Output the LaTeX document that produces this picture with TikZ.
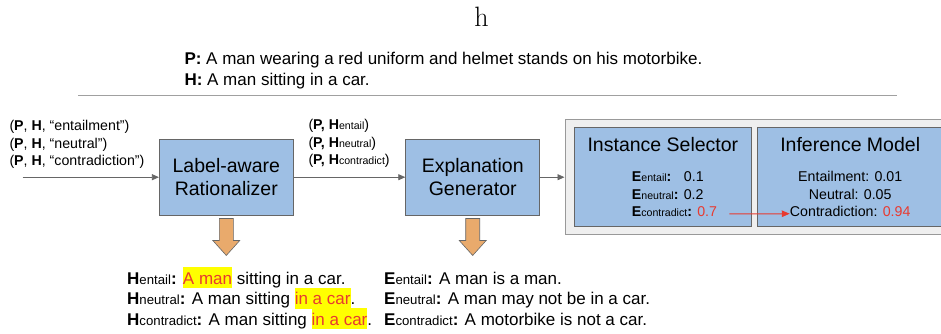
\documentclass[tikz,border=0pt]{standalone}
\usepackage{fontspec}
\usetikzlibrary{arrows.meta,calc}
\newfontfamily\arial{Liberation Sans}
\definecolor{boxblue}{RGB}{158,191,228}
\definecolor{boxborder}{RGB}{102,102,102}
\definecolor{outerfill}{RGB}{239,239,239}
\definecolor{outerborder}{RGB}{153,153,153}
\definecolor{orangefill}{RGB}{233,170,108}
\definecolor{hlred}{RGB}{232,58,48}
\definecolor{hlyellow}{RGB}{255,255,0}
\definecolor{arrgray}{RGB}{102,102,102}
\definecolor{sepgray}{RGB}{160,160,160}
\newcommand\ssub[1]{{\fontsize{10.6}{12}\selectfont #1}}
\newcommand\lsub[1]{{\fontsize{13.2}{15}\selectfont #1}}
\newcommand\hlt[1]{{\setlength{\fboxsep}{0pt}\colorbox{hlyellow}{\rule[-4pt]{0pt}{21pt}\textcolor{hlred}{#1}}}}
\begin{document}
\begin{tikzpicture}[x=1pt,y=-1pt,
  txtfourteen/.style={inner sep=0pt, font=\arial\fontsize{14.2}{17}\selectfont},
  txtseventeen/.style={inner sep=0pt, font=\arial\fontsize{17}{20}\selectfont},
  titletxt/.style={inner sep=0pt, font=\arial\fontsize{19.5}{23.5}\selectfont},
  bluebox/.style={draw=boxborder, fill=boxblue, line width=0.8pt, inner sep=0pt, align=center, font=\arial\fontsize{19.5}{23.5}\selectfont},
  outerbox/.style={draw=outerborder, fill=outerfill, line width=1pt, inner sep=0pt},
  arr/.style={draw=arrgray, line width=0.8pt, -{Triangle[length=7pt,width=6pt]}},
  redarr/.style={draw=hlred, line width=1pt, -{Triangle[length=8pt,width=6.5pt]}},
  orangearr/.style={draw=boxborder, fill=orangefill, line width=0.6pt, line join=miter},
  sepline/.style={draw=sepgray, line width=1.3pt}]
\clip (0,0) rectangle (941,334);
\fill[white] (0,0) rectangle (941,334);

% title letter
\node[inner sep=0pt, anchor=base, font=\fontsize{28}{32}\selectfont] (htop) at (481.5,26.7) {h};

% premise / hypothesis
\node[txtseventeen, anchor=base west] (pline) at (184.3,64.5) {\textbf{P:} A man wearing a red uniform and helmet stands on his motorbike.};
\node[txtseventeen, anchor=base west] (hline) at (184.3,86) {\textbf{H:} A man sitting in a car.};
\coordinate (sepL) at (78.3,95.7);
\coordinate (sepR) at (897,95.7);
\draw[sepline] (sepL) -- (sepR);

% input labels
\node[txtfourteen, anchor=base west] (in1) at (9.3,130.5) {(\textbf{P}, \textbf{H}, “entailment”)};
\node[txtfourteen, anchor=base west] (in2) at (9.3,148) {(\textbf{P}, \textbf{H}, “neutral”)};
\node[txtfourteen, anchor=base west] (in3) at (9.3,165.5) {(\textbf{P}, \textbf{H}, “contradiction”)};

% boxes
\node[bluebox, minimum width=134pt, minimum height=75.7pt] (lar) at (226.3,177.2) {Label-aware\\Rationalizer};
\node[bluebox, minimum width=134pt, minimum height=75.7pt] (gen) at (472.7,177.2) {Explanation\\Generator};
\node[outerbox, minimum width=386pt, minimum height=115.2pt] (outer) at (758,176.9) {};
\node[bluebox, minimum width=177.7pt, minimum height=98.7pt] (sel) at (662.9,176.7) {};
\node[bluebox, minimum width=185.7pt, minimum height=98.7pt] (inf) at (850.2,176.7) {};

% (P, H_x) labels
\node[txtfourteen, anchor=base west] (ph1) at (308.3,129.5) {(\textbf{P, H}\ssub{entail})};
\node[txtfourteen, anchor=base west] (ph2) at (308.3,147) {(\textbf{P, H}\ssub{neutral})};
\node[txtfourteen, anchor=base west] (ph3) at (308.3,164.5) {(\textbf{P, H}\ssub{contradict})};

% connectors
\coordinate (instart) at (22.7,177.2);
\draw[arr] (instart) -- (lar.west);
\draw[arr] (lar.east) -- (gen.west);
\draw[arr] (gen.east) -- (gen.east -| outer.west);

% selector content
\node[titletxt, anchor=base] (selt) at (662.9,151) {Instance Selector};
\node[txtfourteen, anchor=base west] (e1) at (631.7,181.8) {\textbf{E}\ssub{entail}\textbf{:}\hspace{12.5pt}0.1};
\node[txtfourteen, anchor=base west] (e2) at (631.7,199.5) {\textbf{E}\ssub{neutral}\textbf{:} 0.2};
\node[txtfourteen, anchor=base west] (e3) at (631.7,216.8) {\textbf{E}\ssub{contradict}\textbf{:} \textcolor{hlred}{0.7}};

% inference content
\node[titletxt, anchor=base] (inft) at (850.2,151) {Inference Model};
\node[txtfourteen, anchor=base] (i1) at (850.2,181.8) {Entailment: 0.01};
\node[txtfourteen, anchor=base] (i2) at (850.2,199.5) {Neutral: 0.05};
\node[txtfourteen, anchor=base] (i3) at (850.2,216.8) {Contradiction: \textcolor{hlred}{0.94}};

\draw[redarr] ([shift={(12pt,-2pt)}]e3.east) -- ([yshift=-2pt]i3.west);

% orange block arrows
\draw[orangearr] ($(lar.south)+(-7,3)$) -- ($(lar.south)+(-7,25)$) -- ($(lar.south)+(-13.5,25)$) -- ($(lar.south)+(0,40)$) -- ($(lar.south)+(13.5,25)$) -- ($(lar.south)+(7,25)$) -- ($(lar.south)+(7,3)$) -- cycle;
\draw[orangearr] ($(gen.south)+(-7,3)$) -- ($(gen.south)+(-7,25)$) -- ($(gen.south)+(-13.5,25)$) -- ($(gen.south)+(0,40)$) -- ($(gen.south)+(13.5,25)$) -- ($(gen.south)+(7,25)$) -- ($(gen.south)+(7,3)$) -- cycle;

% bottom outputs
\node[txtseventeen, anchor=base west] (b1) at (127,284) {\textbf{H}\lsub{entail}\textbf{:} \hlt{A man} sitting in a car.};
\node[txtseventeen, anchor=base west] (b2) at (127,304.5) {\textbf{H}\lsub{neutral}\textbf{:} A man sitting \hlt{in a car}.};
\node[txtseventeen, anchor=base west] (b3) at (127,325) {\textbf{H}\lsub{contradict}\textbf{:} A man sitting \hlt{in a car}.};
\node[txtseventeen, anchor=base west] (x1) at (384,284) {\textbf{E}\lsub{entail}\textbf{:} A man is a man.};
\node[txtseventeen, anchor=base west] (x2) at (384,304.5) {\textbf{E}\lsub{neutral}\textbf{:} A man may not be in a car.};
\node[txtseventeen, anchor=base west] (x3) at (384,325) {\textbf{E}\lsub{contradict}\textbf{:} A motorbike is not a car.};
\end{tikzpicture}
\end{document}
